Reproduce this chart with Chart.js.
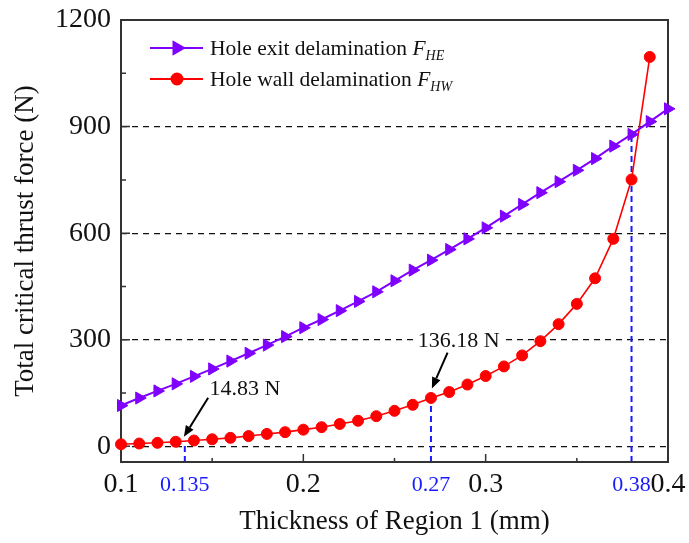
<!DOCTYPE html>
<html>
<head>
<meta charset="utf-8">
<script src="https://cdn.jsdelivr.net/npm/chart.js@4.4.0/dist/chart.umd.min.js"></script>
<style>
  html, body { margin: 0; padding: 0; background: #fff; }
</style>
</head>
<body>
<canvas id="forceChart" width="689" height="543"></canvas>
<script>
// thickness of region 1 (mm)
const exitThickness = [0.10, 0.11, 0.12, 0.13, 0.14, 0.15, 0.16, 0.17, 0.18, 0.19, 0.20,
                       0.21, 0.22, 0.23, 0.24, 0.25, 0.26, 0.27, 0.28, 0.29, 0.30,
                       0.31, 0.32, 0.33, 0.34, 0.35, 0.36, 0.37, 0.38, 0.39, 0.40];
const wallThickness = exitThickness.slice(0, 30);

// critical thrust force (N)
const exitForce = [115, 136, 156, 176, 197, 218, 240, 262, 285, 309, 334,
                   357, 382, 408, 435, 466, 496, 524, 554, 584, 615,
                   648, 681, 714, 745, 777, 810, 845, 878, 914, 950];
const wallForce = [6, 8, 10, 13, 16.5, 20, 24, 29, 35, 40, 47,
                   54, 63, 72, 85, 100, 117, 136.18, 153, 174, 198,
                   225, 256, 296, 344, 401, 473, 584, 751, 1096];

const seriesNames = ['Hole exit delamination', 'Hole wall delamination'];
const seriesSubs = ['HE', 'HW'];

const xTickValues = [0.1, 0.135, 0.2, 0.27, 0.3, 0.38, 0.4];
const yTickValues = [0, 300, 600, 900, 1200];
const xMinor = [0.15, 0.25, 0.35];
const yMinor = [150, 450, 750, 1050];

// marked thicknesses and the force each guide line reaches
const markThickness = [0.135, 0.27, 0.38];
const markForce = [14.83, 136.18, 878];

// callouts: label, text centre, arrow tail, arrow head (data coords)
const calloutText = ['14.83 N', '136.18 N'];
const calloutAt = [[0.168, 162], [0.2852, 296]];
const arrowFrom = [[0.1478, 137], [0.2791, 264]];
const arrowTo = [[0.1345, 27], [0.2705, 163]];

const serif = '"Liberation Serif", "Times New Roman", serif';
const purple = '#7f00ff';
const red = '#ff0000';
const blue = '#1a1aff';

function toPoints(xs, ys) {
    return xs.map((v, i) => ({ x: v, y: ys[i] }));
}

const decorations = {
    id: 'decorations',
    beforeDatasetsDraw(chart) {
        const { ctx, chartArea: a, scales: { x, y } } = chart;
        ctx.save();

        // blue guide lines
        ctx.strokeStyle = blue;
        ctx.lineWidth = 2;
        ctx.setLineDash([6, 4]);
        markThickness.forEach((t, i) => {
            const px = x.getPixelForValue(t);
            ctx.beginPath();
            ctx.moveTo(px, a.bottom);
            ctx.lineTo(px, y.getPixelForValue(markForce[i]));
            ctx.stroke();
        });
        ctx.setLineDash([]);

        // frame
        ctx.strokeStyle = '#333';
        ctx.lineWidth = 2;
        ctx.strokeRect(a.left, a.top, a.right - a.left, a.bottom - a.top);

        // inward ticks
        ctx.lineWidth = 1.5;
        ctx.beginPath();
        [0.2, 0.3].forEach(v => {
            const px = x.getPixelForValue(v);
            ctx.moveTo(px, a.bottom); ctx.lineTo(px, a.bottom - 8);
        });
        xMinor.forEach(v => {
            const px = x.getPixelForValue(v);
            ctx.moveTo(px, a.bottom); ctx.lineTo(px, a.bottom - 4);
        });
        yTickValues.forEach(v => {
            const py = y.getPixelForValue(v);
            ctx.moveTo(a.left, py); ctx.lineTo(a.left + 9, py);
        });
        yMinor.forEach(v => {
            const py = y.getPixelForValue(v);
            ctx.moveTo(a.left, py); ctx.lineTo(a.left + 5, py);
        });
        ctx.stroke();
        ctx.restore();
    },
    afterDatasetsDraw(chart) {
        const { ctx, scales: { x, y } } = chart;
        ctx.save();

        // callouts
        ctx.font = '22px ' + serif;
        ctx.textAlign = 'center';
        ctx.textBaseline = 'middle';
        calloutText.forEach((txt, i) => {
            const cx = x.getPixelForValue(calloutAt[i][0]);
            const cy = y.getPixelForValue(calloutAt[i][1]);
            const w = ctx.measureText(txt).width;
            ctx.fillStyle = '#fff';
            ctx.fillRect(cx - w / 2 - 3, cy - 10, w + 6, 20);
            ctx.fillStyle = '#111';
            ctx.fillText(txt, cx, cy);

            const x0 = x.getPixelForValue(arrowFrom[i][0]);
            const y0 = y.getPixelForValue(arrowFrom[i][1]);
            const x1 = x.getPixelForValue(arrowTo[i][0]);
            const y1 = y.getPixelForValue(arrowTo[i][1]);
            const ang = Math.atan2(y1 - y0, x1 - x0);
            const hl = 11, hw = 4.5;
            const bx = x1 - Math.cos(ang) * hl, by = y1 - Math.sin(ang) * hl;
            ctx.strokeStyle = '#000';
            ctx.lineWidth = 2;
            ctx.beginPath();
            ctx.moveTo(x0, y0);
            ctx.lineTo(bx, by);
            ctx.stroke();
            ctx.fillStyle = '#000';
            ctx.beginPath();
            ctx.moveTo(x1, y1);
            ctx.lineTo(bx + Math.sin(ang) * hw, by - Math.cos(ang) * hw);
            ctx.lineTo(bx - Math.sin(ang) * hw, by + Math.cos(ang) * hw);
            ctx.closePath();
            ctx.fill();
        });

        // legend
        const rows = [48, 79];
        chart.data.datasets.forEach((ds, i) => {
            const ly = rows[i];
            ctx.strokeStyle = ds.borderColor;
            ctx.lineWidth = 2;
            ctx.beginPath();
            ctx.moveTo(150, ly);
            ctx.lineTo(203, ly);
            ctx.stroke();
            Chart.helpers.drawPoint(ctx, {
                pointStyle: ds.pointStyle,
                rotation: ds.pointRotation || 0,
                radius: ds.pointRadius,
                borderWidth: 1
            }, 177, ly);
            ctx.fillStyle = ds.backgroundColor;
            ctx.fill();

            ctx.fillStyle = '#111';
            ctx.textAlign = 'left';
            ctx.textBaseline = 'alphabetic';
            ctx.font = '21.5px ' + serif;
            const base = ly + 7;
            const label = ds.label + ' ';
            ctx.fillText(label, 210, base);
            let tx = 210 + ctx.measureText(label).width;
            ctx.font = 'italic 21.5px ' + serif;
            ctx.fillText('F', tx, base);
            tx += ctx.measureText('F').width;
            ctx.font = 'italic 14px ' + serif;
            ctx.fillText(seriesSubs[i], tx, base + 5);
        });
        ctx.restore();
    }
};

const ctx = document.getElementById('forceChart').getContext('2d');

new Chart(ctx, {
    type: 'scatter',
    data: {
        datasets: [{
            label: seriesNames[0],
            data: toPoints(exitThickness, exitForce),
            showLine: true,
            borderColor: purple,
            backgroundColor: purple,
            borderWidth: 2,
            pointStyle: 'triangle',
            pointRotation: 90,
            pointRadius: 7,
            pointHoverRadius: 7,
            pointBorderWidth: 1,
            clip: false
        }, {
            label: seriesNames[1],
            data: toPoints(wallThickness, wallForce),
            showLine: true,
            borderColor: red,
            backgroundColor: red,
            borderWidth: 1.6,
            pointStyle: 'circle',
            pointRadius: 5.5,
            pointHoverRadius: 5.5,
            pointBorderWidth: 1,
            clip: false
        }]
    },
    options: {
        responsive: false,
        animation: false,
        layout: { padding: { left: 0, top: 20, right: 21, bottom: 0 } },
        plugins: {
            legend: { display: false },
            tooltip: { enabled: false }
        },
        scales: {
            x: {
                type: 'linear',
                min: 0.1,
                max: 0.4,
                afterFit: scale => { scale.height = 81; },
                afterBuildTicks: scale => {
                    scale.ticks = xTickValues.map(v => ({ value: v }));
                },
                grid: { display: false, drawTicks: false },
                border: { display: false },
                ticks: {
                    autoSkip: false,
                    maxRotation: 0,
                    padding: 0,
                    callback: v => String(v),
                    color: c => markThickness.includes(c.tick.value) ? blue : '#111',
                    font: c => markThickness.includes(c.tick && c.tick.value)
                        ? { family: serif, size: 22, lineHeight: 46 / 22 }
                        : { family: serif, size: 28, lineHeight: 46 / 28 }
                },
                title: {
                    display: true,
                    text: 'Thickness of Region 1 (mm)',
                    color: '#111',
                    font: { family: serif, size: 27 },
                    padding: { top: 0, bottom: 5 }
                }
            },
            y: {
                min: -44,
                max: 1200,
                afterFit: scale => { scale.width = 121; },
                afterBuildTicks: scale => {
                    scale.ticks = yTickValues.map(v => ({ value: v }));
                },
                grid: {
                    color: '#111',
                    lineWidth: 1.3,
                    drawTicks: false
                },
                border: { display: false, dash: [6, 5] },
                ticks: {
                    padding: 10,
                    color: '#111',
                    callback: v => String(v),
                    font: { family: serif, size: 28, lineHeight: 0.7 }
                },
                title: {
                    display: true,
                    text: 'Total critical thrust force (N)',
                    color: '#111',
                    font: { family: serif, size: 27 },
                    padding: { top: 10, bottom: 8 }
                }
            }
        }
    },
    plugins: [decorations]
});
</script>
</body>
</html>
